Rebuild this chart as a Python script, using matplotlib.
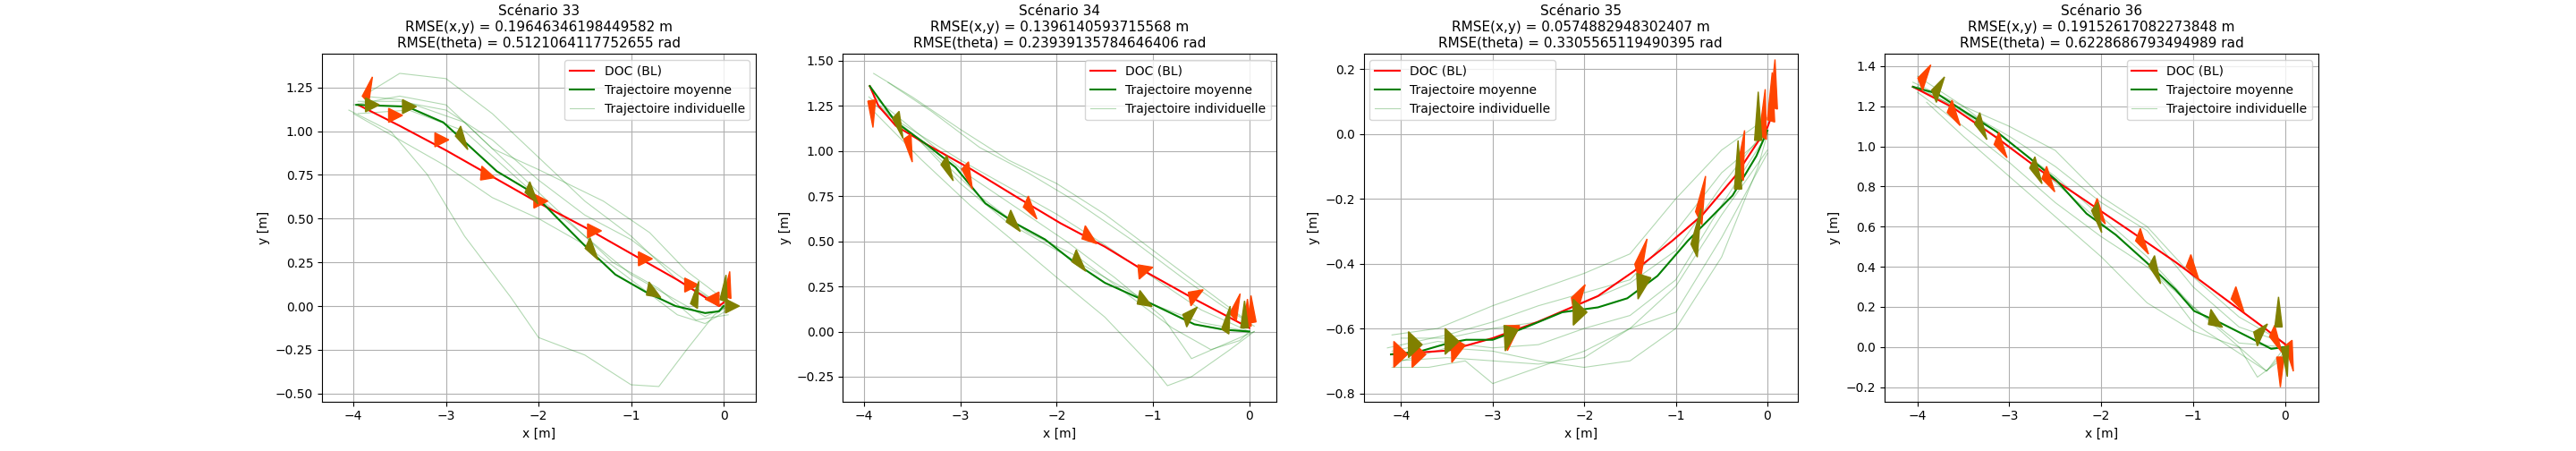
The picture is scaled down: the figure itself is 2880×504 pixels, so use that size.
"""Comparaison DOC / trajectoires mesurées pour quatre scénarios."""

import matplotlib

matplotlib.use("Agg")
import matplotlib.pyplot as plt
import numpy as np

scenarios = [33, 34, 35, 36]
rmse_xy = ["0.19646346198449582", "0.1396140593715568", "0.0574882948302407", "0.19152617082273848"]
rmse_theta = ["0.5121064117752655", "0.23939135784646406", "0.3305565119490395", "0.6228686793494989"]

doc_paths = [
    [(-3.95, 1.15), (-3.5, 1.03), (-3.0, 0.89), (-2.5, 0.74), (-2.0, 0.59), (-1.5, 0.45),
     (-1.0, 0.30), (-0.5, 0.15), (-0.05, 0.0), (0.0, 0.02)],
    [(-3.94, 1.36), (-3.85, 1.25), (-3.67, 1.14), (-3.36, 1.04), (-2.89, 0.90), (-2.43, 0.75),
     (-1.96, 0.60), (-1.5, 0.47), (-1.04, 0.32), (-0.57, 0.18), (0.0, 0.02)],
    [(-4.11, -0.68), (-3.48, -0.668), (-3.0, -0.63), (-2.51, -0.58), (-2.18, -0.54), (-1.85, -0.50),
     (-1.46, -0.424), (-1.04, -0.33), (-0.71, -0.25), (-0.35, -0.13), (0.0, 0.02), (0.04, 0.05)],
    [(-4.05, 1.297), (-3.62, 1.195), (-3.14, 1.044), (-2.65, 0.877), (-2.16, 0.726), (-1.67, 0.574),
     (-1.19, 0.423), (-0.70, 0.256), (-0.21, 0.09), (0.0, 0.014)],
]

mean_paths = [
    [(-3.97, 1.15), (-3.42, 1.14), (-3.03, 1.05), (-2.78, 0.93), (-2.45, 0.77), (-2.07, 0.65),
     (-1.81, 0.51), (-1.49, 0.34), (-1.17, 0.18), (-0.84, 0.08), (-0.52, 0.0), (-0.2, -0.04),
     (-0.05, -0.03), (0.0, 0.0)],
    [(-3.94, 1.36), (-3.67, 1.16), (-3.36, 1.04), (-3.05, 0.91), (-2.74, 0.71), (-2.43, 0.60),
     (-2.12, 0.51), (-1.81, 0.38), (-1.5, 0.27), (-1.04, 0.16), (-0.57, 0.04), (-0.26, 0.01), (0.0, 0.0)],
    [(-4.11, -0.68), (-3.81, -0.672), (-3.48, -0.645), (-3.29, -0.635), (-3.0, -0.635), (-2.67, -0.60),
     (-2.24, -0.55), (-1.85, -0.535), (-1.53, -0.507), (-1.2, -0.438), (-0.87, -0.33), (-0.38, -0.19),
     (-0.12, -0.068), (0.0, 0.01)],
    [(-4.05, 1.297), (-3.79, 1.264), (-3.46, 1.165), (-3.14, 1.074), (-2.81, 0.953), (-2.49, 0.832),
     (-2.16, 0.665), (-1.84, 0.559), (-1.51, 0.423), (-1.19, 0.286), (-0.99, 0.18), (-0.70, 0.12),
     (-0.37, 0.044), (-0.15, -0.009), (0.0, 0.0)],
]

# (x, y, angle en degrés)
doc_arrows = [
    [(-3.87, 1.18, 60), (-3.62, 1.09, 0), (-3.12, 0.95, 0), (-2.62, 0.76, -10), (-2.05, 0.6, 0),
     (-1.47, 0.43, 0), (-0.92, 0.27, 0), (-0.42, 0.12, 0), (-0.05, 0.04, 180), (0.04, 0.05, 80)],
    [(-3.92, 1.28, -85), (-3.55, 1.08, -70), (-2.95, 0.92, -60), (-2.32, 0.72, -40), (-1.72, 0.55, -25),
     (-1.15, 0.33, 10), (-0.62, 0.18, 20), (-0.17, 0.08, 60), (-0.02, 0.03, 90), (0.03, 0.05, 95)],
    [(-4.08, -0.68, 0), (-3.88, -0.68, 0), (-3.45, -0.665, 5), (-2.85, -0.63, 15), (-2.12, -0.54, 30),
     (-1.42, -0.43, 45), (-0.75, -0.26, 60), (-0.3, -0.13, 70), (-0.05, -0.01, 80), (0.04, 0.04, 85),
     (0.07, 0.08, 85)],
    [(-3.97, 1.31, 40), (-3.65, 1.2, -40), (-3.14, 1.04, -40), (-2.62, 0.87, -40), (-2.07, 0.71, -40),
     (-1.6, 0.56, -40), (-1.05, 0.43, -40), (-0.56, 0.27, -40), (-0.14, 0.08, -45), (-0.05, -0.05, -90),
     (0.04, 0.02, -70)],
]

mean_arrows = [
    [(-3.87, 1.15, 0), (-3.47, 1.14, 0), (-2.87, 1.0, -45), (-2.12, 0.68, -40), (-1.47, 0.36, -40),
     (-0.82, 0.1, -20), (-0.32, 0.0, 70), (0.0, 0.03, 80), (0.02, 0.0, 0)],
    [(-3.67, 1.2, -60), (-3.17, 0.95, -50), (-2.5, 0.64, -35), (-1.82, 0.42, -35), (-1.15, 0.19, -20),
     (-0.67, 0.06, 30), (-0.25, 0.0, 70), (-0.05, 0.02, 90)],
    [(-3.92, -0.65, 0), (-3.52, -0.64, 0), (-2.87, -0.63, 10), (-2.12, -0.55, 0), (-1.42, -0.47, 10),
     (-0.8, -0.36, 60), (-0.32, -0.17, 90), (-0.1, -0.02, 90)],
    [(-3.82, 1.25, 40), (-3.35, 1.14, -45), (-2.75, 0.92, -45), (-2.07, 0.7, -60), (-1.45, 0.43, -50),
     (-0.82, 0.15, -20), (-0.32, 0.04, 30), (-0.07, 0.1, 90), (0.0, 0.0, -80)],
]

individual_paths = [
    [
        [(-3.9, 1.2), (-3.5, 1.33), (-3.0, 1.3), (-2.5, 1.1), (-2.0, 0.85), (-1.5, 0.6), (-1.0, 0.4), (-0.5, 0.15), (0.0, 0.0)],
        [(-3.95, 1.17), (-3.5, 1.17), (-3.0, 1.12), (-2.5, 0.95), (-2.0, 0.72), (-1.5, 0.52), (-1.0, 0.38), (-0.5, 0.18), (-0.1, 0.03)],
        [(-4.05, 1.12), (-3.6, 1.0), (-3.2, 0.75), (-2.8, 0.4), (-2.3, 0.05), (-2.0, -0.18), (-1.5, -0.28), (-1.0, -0.45),
         (-0.7, -0.46), (-0.4, -0.25), (-0.1, -0.05), (0.05, 0.0)],
        [(-4.0, 1.1), (-3.5, 0.95), (-3.0, 0.8), (-2.5, 0.62), (-2.0, 0.5), (-1.5, 0.35), (-1.0, 0.15), (-0.5, -0.05), (-0.2, -0.1), (0.05, -0.02)],
        [(-3.9, 1.2), (-3.5, 1.18), (-2.8, 1.05), (-2.2, 0.75), (-1.8, 0.55), (-1.2, 0.25), (-0.7, 0.1), (-0.3, -0.08), (0.05, -0.05)],
        [(-3.95, 1.1), (-3.4, 1.12), (-2.8, 1.0), (-2.0, 0.62), (-1.5, 0.4), (-1.0, 0.18), (-0.6, 0.06), (-0.2, -0.06), (0.05, 0.0)],
        [(-4.0, 1.15), (-3.5, 1.2), (-3.0, 1.15), (-2.5, 0.9), (-2.0, 0.78), (-1.3, 0.6), (-0.8, 0.42), (-0.4, 0.2), (0.05, 0.02)],
    ],
    [
        [(-3.9, 1.43), (-3.5, 1.3), (-3.0, 1.12), (-2.5, 0.95), (-2.0, 0.82), (-1.5, 0.65), (-1.0, 0.45), (-0.5, 0.25), (0.0, 0.05)],
        [(-3.75, 1.38), (-3.3, 1.22), (-2.8, 1.02), (-2.3, 0.88), (-1.8, 0.72), (-1.2, 0.5), (-0.7, 0.3), (-0.3, 0.15), (0.05, 0.03)],
        [(-3.95, 1.3), (-3.6, 1.15), (-3.0, 0.95), (-2.5, 0.8), (-2.0, 0.65), (-1.5, 0.48), (-1.0, 0.3), (-0.5, 0.12), (0.0, 0.0)],
        [(-3.95, 1.28), (-3.5, 1.1), (-3.0, 0.82), (-2.5, 0.6), (-2.0, 0.45), (-1.5, 0.3), (-1.0, 0.15), (-0.5, 0.05), (0.0, 0.0)],
        [(-3.9, 1.22), (-3.4, 0.95), (-2.9, 0.7), (-2.4, 0.48), (-2.0, 0.3), (-1.5, 0.08), (-1.0, -0.2), (-0.85, -0.3),
         (-0.6, -0.25), (-0.2, -0.1), (0.05, 0.0)],
        [(-3.85, 1.25), (-3.3, 1.0), (-2.8, 0.75), (-2.3, 0.55), (-1.8, 0.42), (-1.3, 0.22), (-0.8, 0.02), (-0.4, -0.1), (-0.1, -0.05), (0.0, 0.0)],
        [(-3.9, 1.3), (-3.4, 1.08), (-2.9, 0.86), (-2.4, 0.68), (-1.9, 0.5), (-1.4, 0.3), (-0.9, 0.08), (-0.6, -0.15), (-0.3, -0.08), (0.05, 0.0)],
    ],
    [
        [(-4.1, -0.62), (-3.6, -0.6), (-3.0, -0.53), (-2.5, -0.48), (-2.0, -0.43), (-1.5, -0.37), (-1.0, -0.2), (-0.5, -0.05), (0.0, 0.05)],
        [(-4.15, -0.66), (-3.5, -0.62), (-3.0, -0.58), (-2.5, -0.53), (-2.0, -0.49), (-1.5, -0.45), (-1.0, -0.3), (-0.5, -0.12), (0.0, 0.0)],
        [(-4.0, -0.63), (-3.5, -0.63), (-3.0, -0.6), (-2.5, -0.58), (-2.0, -0.52), (-1.5, -0.46), (-1.0, -0.36), (-0.5, -0.16), (0.0, 0.02)],
        [(-4.05, -0.7), (-3.5, -0.69), (-3.0, -0.7), (-2.5, -0.71), (-2.0, -0.69), (-1.5, -0.6), (-1.0, -0.47), (-0.5, -0.25), (0.0, -0.05)],
        [(-4.1, -0.72), (-3.7, -0.72), (-3.3, -0.7), (-3.0, -0.77), (-2.6, -0.73), (-2.0, -0.67), (-1.5, -0.6), (-1.0, -0.55),
         (-0.5, -0.32), (0.0, -0.06)],
        [(-4.0, -0.7), (-3.5, -0.66), (-3.0, -0.67), (-2.5, -0.7), (-2.0, -0.72), (-1.5, -0.7), (-1.0, -0.6), (-0.5, -0.38), (-0.1, -0.1), (0.0, 0.0)],
        [(-4.1, -0.67), (-3.6, -0.64), (-3.0, -0.66), (-2.5, -0.65), (-2.0, -0.6), (-1.5, -0.56), (-1.0, -0.45), (-0.5, -0.22), (0.0, 0.0)],
    ],
    [
        [(-4.0, 1.35), (-3.5, 1.2), (-3.0, 1.1), (-2.5, 0.98), (-2.0, 0.75), (-1.5, 0.6), (-1.0, 0.35), (-0.5, 0.15), (0.0, 0.02)],
        [(-4.05, 1.3), (-3.5, 1.18), (-3.0, 1.05), (-2.5, 0.9), (-2.0, 0.72), (-1.5, 0.58), (-1.0, 0.3), (-0.5, 0.1), (0.0, 0.02)],
        [(-4.0, 1.27), (-3.5, 1.1), (-3.0, 0.92), (-2.5, 0.72), (-2.0, 0.55), (-1.5, 0.4), (-1.0, 0.2), (-0.5, 0.0), (-0.2, -0.12), (0.0, 0.0)],
        [(-3.9, 1.22), (-3.5, 1.05), (-3.0, 0.85), (-2.5, 0.65), (-2.0, 0.45), (-1.5, 0.22), (-1.0, 0.08), (-0.5, 0.0), (-0.3, -0.15), (0.0, -0.05)],
        [(-4.05, 1.32), (-3.5, 1.2), (-3.0, 1.02), (-2.5, 0.85), (-2.0, 0.65), (-1.5, 0.45), (-1.0, 0.2), (-0.5, 0.02), (0.0, 0.0)],
        [(-4.0, 1.3), (-3.5, 1.17), (-3.0, 1.0), (-2.5, 0.82), (-2.0, 0.62), (-1.5, 0.42), (-1.0, 0.12), (-0.6, 0.0), (-0.2, -0.12), (0.05, 0.0)],
    ],
]

x_limits = [(-4.34, 0.35), (-4.22, 0.285), (-4.41, 0.33), (-4.36, 0.364)]
y_limits = [(-0.545, 1.44), (-0.387, 1.537), (-0.825, 0.246), (-0.271, 1.46)]
legend_loc = ["upper right", "upper right", "upper left", "upper right"]


def draw_arrows(ax, arrows, color):
    for x, y, ang in arrows:
        t = np.deg2rad(ang)
        ax.arrow(x, y, 0.15 * np.cos(t), 0.15 * np.sin(t), width=0.005, head_width=0.08,
                 head_length=0.15, length_includes_head=True, color=color, zorder=4)


fig, axes = plt.subplots(1, 4, figsize=(28.8, 5.04))
for i, ax in enumerate(axes):
    for j, path in enumerate(individual_paths[i]):
        p = np.array(path)
        ax.plot(p[:, 0], p[:, 1], color="green", alpha=0.3, lw=0.8,
                label="Trajectoire individuelle" if j == 0 else None)
    doc = np.array(doc_paths[i])
    mean = np.array(mean_paths[i])
    ax.plot(doc[:, 0], doc[:, 1], color="red", lw=1.5, label="DOC (BL)", zorder=3)
    ax.plot(mean[:, 0], mean[:, 1], color="green", lw=1.5, label="Trajectoire moyenne", zorder=3)
    draw_arrows(ax, doc_arrows[i], "orangered")
    draw_arrows(ax, mean_arrows[i], "olive")
    handles, labels = ax.get_legend_handles_labels()
    order = [labels.index(k) for k in ["DOC (BL)", "Trajectoire moyenne", "Trajectoire individuelle"]]
    ax.legend([handles[k] for k in order], [labels[k] for k in order], loc=legend_loc[i])
    ax.set_xlim(*x_limits[i])
    ax.set_ylim(*y_limits[i])
    ax.set_xlabel("x [m]")
    ax.set_ylabel("y [m]")
    ax.set_title(f"Scénario {scenarios[i]}\nRMSE(x,y) = {rmse_xy[i]} m\nRMSE(theta) = {rmse_theta[i]} rad",
                 fontsize=11)
    ax.grid(True)

fig.savefig("out.png", dpi=100)
